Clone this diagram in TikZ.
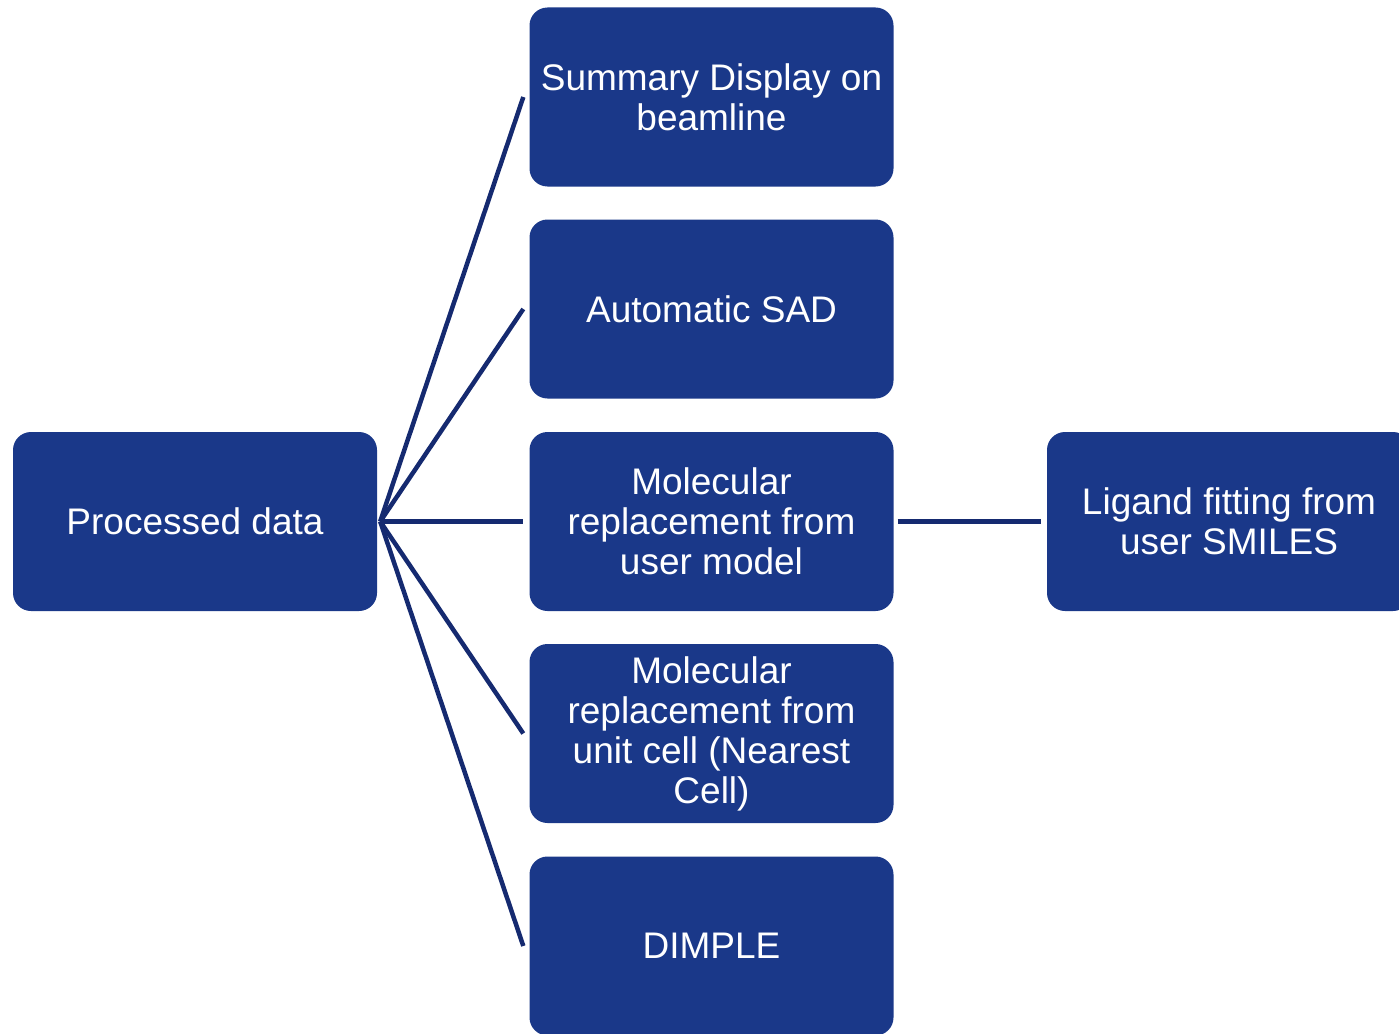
\documentclass[tikz,border=0pt]{standalone}
\usepackage{fontspec}
\setmainfont{Liberation Sans}
\definecolor{boxblue}{HTML}{1A3889}
\definecolor{linkblue}{HTML}{152A70}
\begin{document}
\begin{tikzpicture}[x=1pt,y=-1pt,
  card/.style={fill=boxblue, draw=none, rounded corners=18pt,
    minimum width=364pt, minimum height=179pt, text=white,
    align=center, inner sep=0pt, font=\fontsize{37}{40}\selectfont},
  link/.style={draw=linkblue, line width=4.5pt}]
\clip (0,0) rectangle (1399,1033);

\node[card] (proc) at (195,521.5) {Processed data};

\node[card] (sum)  at (711.5,97)    {Summary Display on\\beamline};
\node[card] (sad)  at (711.5,309)   {Automatic SAD};
\node[card] (mru)  at (711.5,521.5) {Molecular\\replacement from\\user model};
\node[card] (mrc)  at (711.5,733.5) {Molecular\\replacement from\\unit cell (Nearest\\Cell)};
\node[card] (dim)  at (711.5,946)   {DIMPLE};

\node[card] (lig)  at (1229,521.5)  {Ligand fitting from\\user SMILES};

% fan of connectors from the processed-data card
\coordinate (hub) at ([xshift=3pt]proc.east);
\foreach \t in {sum,sad,mru,mrc,dim}
  \draw[link] (hub) -- ([xshift=-6pt]\t.west);

\draw[link] ([xshift=4pt]mru.east) -- ([xshift=-6pt]lig.west);
\end{tikzpicture}
\end{document}
